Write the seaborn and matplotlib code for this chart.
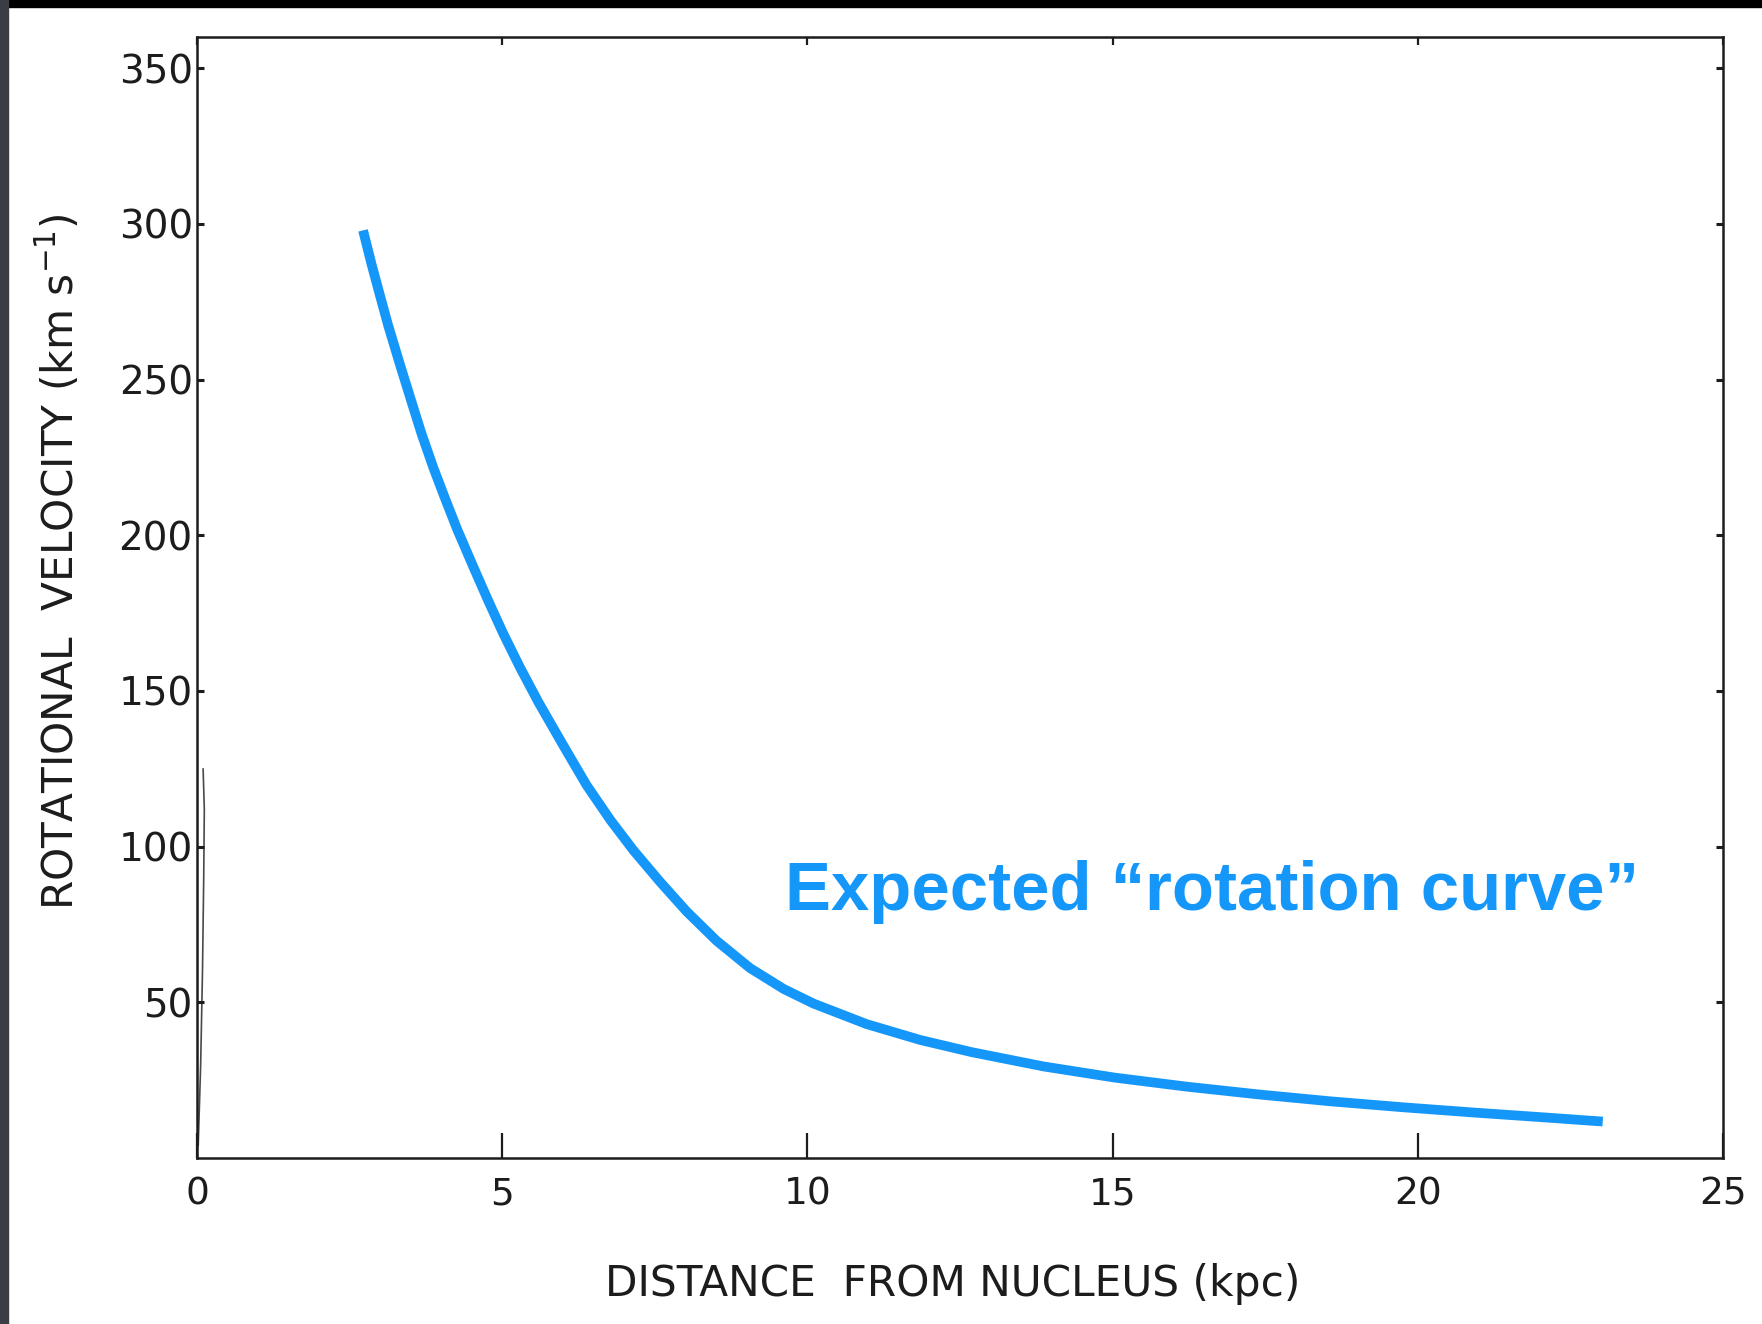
import matplotlib
matplotlib.use("Agg")
import matplotlib.pyplot as plt
import pandas as pd
import seaborn as sns
from matplotlib.patches import Rectangle

# distance from nucleus (kpc) and expected rotational velocity (km/s)
distance_kpc = [2.72, 2.86, 2.97, 3.13, 3.33, 3.52, 3.68, 3.87, 4.05, 4.26,
                4.53, 4.77, 5.02, 5.29, 5.59, 6.00, 6.38, 6.77, 7.15, 7.59,
                8.02, 8.51, 9.06, 9.61, 10.10, 10.97, 11.85, 12.69, 13.87, 15.04,
                16.22, 17.40, 18.57, 19.75, 20.92, 22.10, 23.03]
velocity_kms = [297.9, 287.0, 279.0, 267.5, 254.5, 242.5, 232.5, 221.8, 212.5, 202.0,
                189.7, 179.0, 168.3, 157.6, 146.5, 132.5, 119.8, 108.6, 98.8, 88.6,
                79.2, 69.8, 61.0, 54.3, 49.6, 43.0, 37.9, 34.0, 29.4, 25.8,
                22.9, 20.4, 18.2, 16.3, 14.6, 13.0, 11.7]

# faint remnant of the original measured trace hugging the vertical axis
trace_kpc = [0.02, 0.06, 0.09, 0.11, 0.12, 0.10]
trace_kms = [4, 30, 60, 90, 112, 125]

x_ticks = [0, 5, 10, 15, 20, 25]
y_ticks = [50, 100, 150, 200, 250, 300, 350]

BLUE = "#1597FA"
INK = "#1c1c1c"


def main() -> None:
    sns.set_style("ticks")
    plt.rcParams["font.family"] = ["DejaVu Sans"]

    fig = plt.figure(figsize=(17.62, 13.24), dpi=100)
    ax = fig.add_axes([197 / 1762, 1 - 1158 / 1324, 1526 / 1762, 1121 / 1324])

    curve = pd.DataFrame({"distance": distance_kpc, "velocity": velocity_kms})
    trace = pd.DataFrame({"distance": trace_kpc, "velocity": trace_kms})

    sns.lineplot(data=trace, x="distance", y="velocity", sort=False, ax=ax,
                 color=INK, linewidth=1.2, alpha=0.8)
    sns.lineplot(data=curve, x="distance", y="velocity", sort=False, ax=ax,
                 color=BLUE, linewidth=7, solid_capstyle="butt", solid_joinstyle="round")

    ax.set_xlim(0, 25)
    ax.set_ylim(0, 360)
    ax.set_xticks(x_ticks)
    ax.set_yticks(y_ticks)
    ax.set_xticklabels([str(t) for t in x_ticks])
    ax.set_yticklabels([str(t) for t in y_ticks])

    for side in ["left", "right", "top", "bottom"]:
        ax.spines[side].set_visible(True)
        ax.spines[side].set_linewidth(1.8)
        ax.spines[side].set_color(INK)

    ax.tick_params(axis="x", direction="in", length=18, width=1.6, pad=13,
                   labelsize=27, colors=INK, top=True)
    ax.tick_params(axis="y", direction="in", length=5, width=2.2, pad=3,
                   labelsize=28, colors=INK, right=True)
    # the ticks along the top edge are only short nicks
    for tick in ax.xaxis.get_major_ticks():
        tick.tick2line.set_markersize(6)

    ax.set_xlabel("DISTANCE  FROM NUCLEUS (kpc)", fontsize=30.4, color=INK)
    ax.xaxis.set_label_coords(0.495, -0.094)
    ax.set_ylabel("ROTATIONAL  VELOCITY (km s$^{-1}$)", fontsize=30.4, color=INK)
    ax.yaxis.set_label_coords(-0.075, 0.532)

    ax.text(9.63, 79.6, "Expected \u201crotation curve\u201d", color=BLUE,
            fontsize=49.6, fontweight="bold", family=["Liberation Sans", "DejaVu Sans"],
            ha="left", va="baseline")

    # dark photo border along the top and left edges
    fig.patches.append(Rectangle((0, 1 - 7 / 1324), 1, 7 / 1324, transform=fig.transFigure,
                                 color="black", zorder=10))
    fig.patches.append(Rectangle((0, 0), 8 / 1762, 1, transform=fig.transFigure,
                                 color="#3a3d44", zorder=10))

    fig.savefig("out.png", dpi=100, facecolor="white")
    plt.close(fig)


if __name__ == "__main__":
    main()
